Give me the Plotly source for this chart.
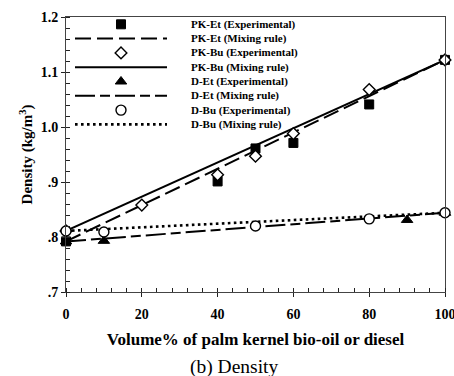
import plotly.graph_objects as go

# Data
x_pket = [0, 40, 50, 60, 80, 100]
y_pket = [0.792, 0.901, 0.961, 0.971, 1.041, 1.122]
x_pkbu = [0, 20, 40, 50, 60, 80, 100]
y_pkbu = [0.811, 0.858, 0.913, 0.947, 0.988, 1.068, 1.122]
x_det = [0, 10, 90, 100]
y_det = [0.792, 0.793, 0.831, 0.844]
x_dbu = [0, 10, 50, 80, 100]
y_dbu = [0.811, 0.809, 0.820, 0.833, 0.844]
x_mix = [0, 100]
y_mix_pket = [0.792, 1.122]
y_mix_pkbu = [0.811, 1.122]
y_mix_det = [0.792, 0.844]
y_mix_dbu = [0.811, 0.844]
legend_labels = ["PK-Et (Experimental)", "PK-Et (Mixing rule)", "PK-Bu (Experimental)", "PK-Bu (Mixing rule)",
                 "D-Et (Experimental)", "D-Et (Mixing rule)", "D-Bu (Experimental)", "D-Bu (Mixing rule)"]
x_ticks = [0, 20, 40, 60, 80, 100]
y_ticks = [0.7, 0.8, 0.9, 1.0, 1.1, 1.2]
y_ticktext = [".7", ".8", ".9", "1.0", "1.1", "1.2"]

fnt = "Liberation Serif, Times New Roman, serif"
W, H = 454, 376
L, R, T, B = 66, 9, 17, 84
pw, ph = W - L - R, H - T - B


def px2x(px):
    return (px - L) / pw


def px2y(py):
    return (H - B - py) / ph


styles = [
    ("m", dict(symbol="square", size=9, color="black", line=dict(color="black", width=1))),
    ("l", dict(color="black", width=2, dash="16px,6px")),
    ("m", dict(symbol="diamond", size=9, color="white", line=dict(color="black", width=1.4))),
    ("l", dict(color="black", width=2)),
    ("m", dict(symbol="triangle-up", size=10, color="black", line=dict(color="black", width=1))),
    ("l", dict(color="black", width=2, dash="20px,5px,10px,5px")),
    ("m", dict(symbol="circle", size=10, color="white", line=dict(color="black", width=1.4))),
    ("l", dict(color="black", width=2.6, dash="2.6px,3.4px")),
]
series = [(x_pket, y_pket), (x_mix, y_mix_pket), (x_pkbu, y_pkbu), (x_mix, y_mix_pkbu),
          (x_det, y_det), (x_mix, y_mix_det), (x_dbu, y_dbu), (x_mix, y_mix_dbu)]

fig = go.Figure()
# lines first, markers on top
for (kind, st), (xs, ys), name in zip(styles, series, legend_labels):
    if kind == "l":
        fig.add_trace(go.Scatter(x=xs, y=ys, mode="lines", name=name, line=st, showlegend=False))
for (kind, st), (xs, ys), name in zip(styles, series, legend_labels):
    if kind == "m":
        fig.add_trace(go.Scatter(x=xs, y=ys, mode="markers", name=name, marker=st, showlegend=False,
                                 cliponaxis=False))

# manual legend (compact spacing like the reference)
shapes, annotations = [], []
for i, ((kind, st), name) in enumerate(zip(styles, legend_labels)):
    row_y = px2y(24.3 + 14.3 * i)
    if kind == "l":
        shapes.append(dict(type="line", xref="paper", yref="paper", x0=px2x(75), x1=px2x(167),
                           y0=row_y, y1=row_y, line=st))
    else:
        fig.add_trace(go.Scatter(x=[px2x(121)], y=[row_y], mode="markers", marker=st, showlegend=False,
                                 xaxis="x2", yaxis="y2", hoverinfo="skip"))
    annotations.append(dict(text="<b>" + name + "</b>", x=px2x(189), y=row_y, xref="paper", yref="paper",
                            xanchor="left", yanchor="middle", showarrow=False,
                            font=dict(size=11, family=fnt, color="black")))

annotations.append(dict(text="(b) Density", x=px2x(234), y=px2y(367), xref="paper", yref="paper",
                        showarrow=False, font=dict(size=19.5, family=fnt, color="black"),
                        xanchor="center", yanchor="middle"))

fig.update_layout(
    width=W, height=H,
    margin=dict(l=L, r=R, t=T, b=B),
    paper_bgcolor="white", plot_bgcolor="white",
    font=dict(family=fnt, color="black"),
    showlegend=False,
    shapes=shapes,
    annotations=annotations,
    xaxis2=dict(overlaying="x", range=[0, 1], visible=False, fixedrange=True),
    yaxis2=dict(overlaying="y", range=[0, 1], visible=False, fixedrange=True),
    xaxis=dict(range=[0, 100], tickvals=x_ticks, ticktext=["<b>%d</b>" % v for v in x_ticks],
               ticks="outside", ticklen=4, tickcolor="#222", ticklabelstandoff=5,
               ticklabeloverflow="allow",
               tickfont=dict(size=14, family=fnt), showgrid=False, zeroline=False,
               showline=True, linecolor="#444", linewidth=1, mirror=True, automargin=False,
               minor=dict(dtick=4, ticks="inside", ticklen=4, tickcolor="#222"),
               title=dict(text="<b>Volume% of palm kernel bio-oil or diesel</b>",
                          font=dict(size=17, family=fnt), standoff=12)),
    yaxis=dict(range=[0.7, 1.2], tickvals=y_ticks, ticktext=["<b>%s</b>" % t for t in y_ticktext],
               ticks="outside", ticklen=4, tickcolor="#222",
               tickfont=dict(size=14, family=fnt), showgrid=False, zeroline=False,
               showline=True, linecolor="#444", linewidth=1, mirror=True, automargin=False,
               minor=dict(dtick=0.02, ticks="inside", ticklen=4, tickcolor="#222"),
               title=dict(text="<b>Density (kg/m<sup>3</sup>)</b>", font=dict(size=15, family=fnt), standoff=4)),
)
fig.write_html("out.html", config={"displayModeBar": False},
               post_script="document.body.style.margin='0';document.body.style.overflow='hidden';")
